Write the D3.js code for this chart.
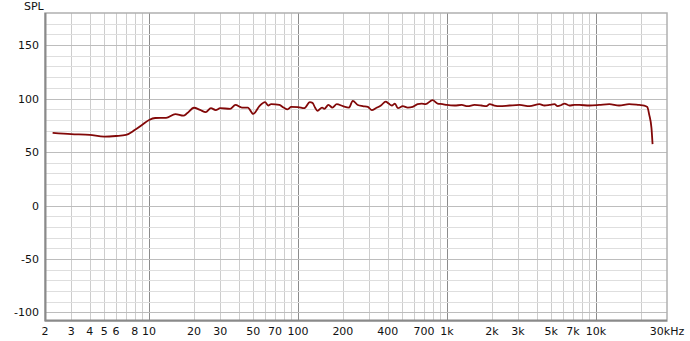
<!DOCTYPE html>
<html>
<head>
<meta charset="utf-8">
<script src="https://cdn.jsdelivr.net/npm/d3@7"></script>
<style>
  body { margin: 0; background: #fff; }
  text { font-family: "DejaVu Sans", sans-serif; font-size: 11px; fill: #111; }
</style>
</head>
<body>
<script>
// response curve (Hz, dB SPL)
const freqs = [2.25, 3, 4, 5, 6, 7, 8, 9, 10, 11, 13, 15, 17, 18, 20, 22, 24, 26, 28, 30,
  35, 38, 42, 46, 50, 55, 60, 63, 66, 75, 80, 85, 90, 100, 110, 120, 125, 130, 135, 145,
  150, 160, 170, 182, 200, 220, 233, 252, 272, 294, 313, 333, 360, 388, 406, 426, 447, 468,
  505, 545, 588, 635, 676, 718, 800, 865, 934, 1000, 1125, 1255, 1375, 1530, 1700, 1840,
  1935, 2085, 2250, 2630, 3070, 3580, 4180, 4510, 4870, 5270, 5520, 5870, 6150, 6640, 7160,
  7740, 9030, 10500, 12300, 14300, 16700, 19500, 21100, 22100, 22800, 23600, 24000];
const spl = [68, 66.8, 66, 64.4, 65, 66, 70.5, 75.5, 80, 81.8, 82, 85.5, 84, 86.2, 91.4, 89.4, 87.3, 91, 89.2, 91,
  90.4, 94, 91.6, 91.6, 85.6, 92.9, 96.6, 93.5, 94.8, 94, 91.6, 89.9, 92.2, 92, 91, 96.6, 96, 91.6, 88.5, 91.6,
  90.4, 94, 91.6, 94.8, 92.9, 91.6, 97.9, 94, 92.9, 92.2, 89.2, 91, 93.5, 97.2, 95.3, 93.5, 95.3, 91,
  92.9, 91.6, 92.2, 94.8, 95.3, 94.8, 98.5, 95.3, 94.8, 94, 93.5, 94, 92.9, 94, 93.5, 92.9,
  94.8, 93.5, 92.9, 93.5, 94, 92.9, 94.8, 93.5, 94, 94.8, 92.9, 94, 95.3, 93.5, 94,
  94, 93.5, 94, 94.8, 93.5, 94.8, 94, 93.5, 92.2, 84.8, 72.3, 57.4];

const xTicks = [2, 3, 4, 5, 6, 8, 10, 20, 30, 50, 70, 100, 200, 400, 700, 1000, 2000, 3000, 5000, 7000, 10000, 30000];
const xTickLabels = ["2", "3", "4", "5", "6", "8", "10", "20", "30", "50", "70", "100", "200", "400", "700",
  "1k", "2k", "3k", "5k", "7k", "10k", "30kHz"];
const yTicks = [-100, -50, 0, 50, 100, 150];

const width = 690,
  height = 341,
  margin = { top: 13, right: 23, bottom: 20, left: 45 };

const svg = d3.select("body")
  .append("svg")
  .attr("width", width)
  .attr("height", height);

const x = d3.scaleLog()
  .domain([2, 30000])
  .range([margin.left, width - margin.right]);

const y = d3.scaleLinear()
  .domain([-108, 180])
  .range([height - margin.bottom, margin.top]);

const plot = svg.append("g");

// vertical grid: 1..9 per decade, decades darker
const vLines = [];
for (let d = 1; d <= 10000; d *= 10) {
  for (let m = 1; m <= 9; m++) {
    const f = m * d;
    if (f > 2 && f < 30000) vLines.push(f);
  }
}
plot.selectAll(".vgrid")
  .data(vLines)
  .enter()
  .append("line")
  .attr("x1", d => Math.round(x(d)) + 0.5)
  .attr("x2", d => Math.round(x(d)) + 0.5)
  .attr("y1", y(180))
  .attr("y2", y(-108))
  .attr("stroke", d => [10, 100, 1000, 10000].includes(d) ? "#8c8c8c" : "#cdcdcd")
  .attr("stroke-width", 1);

// horizontal grid every 10 dB, labelled ones a bit darker
const hLines = d3.range(-100, 180, 10);
plot.selectAll(".hgrid")
  .data(hLines)
  .enter()
  .append("line")
  .attr("x1", x(2))
  .attr("x2", x(30000))
  .attr("y1", d => Math.round(y(d)) + 0.5)
  .attr("y2", d => Math.round(y(d)) + 0.5)
  .attr("stroke", d => d % 50 === 0 ? "#bdbdbd" : "#dedede")
  .attr("stroke-width", 1);

// frame
plot.append("rect")
  .attr("x", x(2))
  .attr("y", y(180))
  .attr("width", x(30000) - x(2))
  .attr("height", y(-108) - y(180))
  .attr("fill", "none")
  .attr("stroke", "#b0b0b0")
  .attr("stroke-width", 1.5);
plot.append("line")
  .attr("x1", x(2) + 0.5).attr("x2", x(2) + 0.5)
  .attr("y1", y(180)).attr("y2", y(-108))
  .attr("stroke", "#8a8a8a").attr("stroke-width", 2);
plot.append("line")
  .attr("x1", x(2)).attr("x2", x(30000))
  .attr("y1", y(-108) - 0.5).attr("y2", y(-108) - 0.5)
  .attr("stroke", "#8a8a8a").attr("stroke-width", 2);

// y labels
svg.selectAll(".ylab")
  .data(yTicks)
  .enter()
  .append("text")
  .attr("x", 39)
  .attr("y", d => y(d) + 4)
  .attr("text-anchor", "end")
  .text(d => d);

svg.append("text")
  .attr("x", 24)
  .attr("y", 10)
  .text("SPL");

// x labels
svg.selectAll(".xlab")
  .data(xTicks)
  .enter()
  .append("text")
  .attr("x", d => x(d))
  .attr("y", 335)
  .attr("text-anchor", "middle")
  .text((d, i) => xTickLabels[i]);

// response curve
const line = d3.line()
  .x(d => x(d[0]))
  .y(d => y(d[1]))
  .curve(d3.curveMonotoneX);

svg.append("path")
  .datum(d3.zip(freqs, spl))
  .attr("d", line)
  .attr("fill", "none")
  .attr("stroke", "#820808")
  .attr("stroke-width", 1.8)
  .attr("stroke-linejoin", "round");
</script>
</body>
</html>
